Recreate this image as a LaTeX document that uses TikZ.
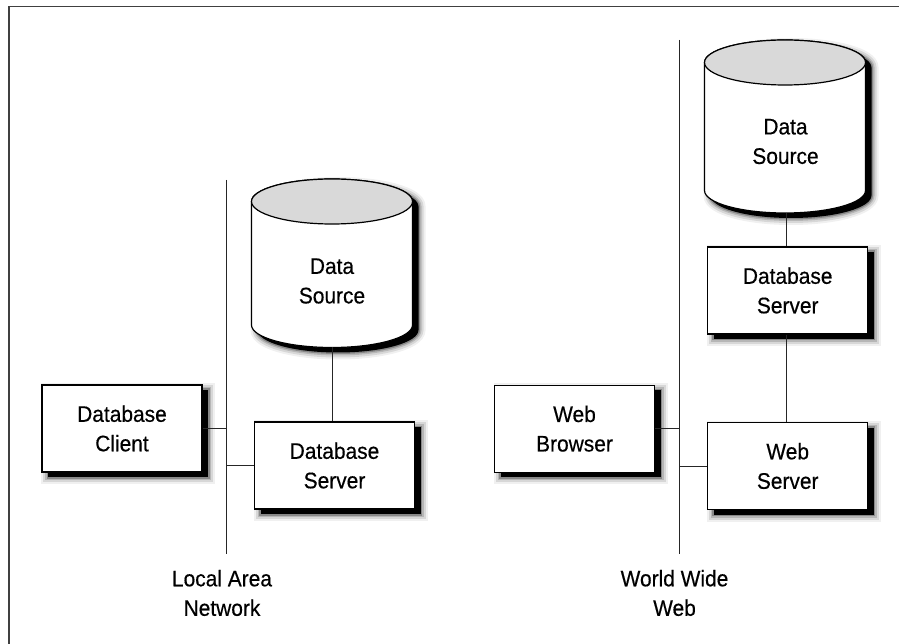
\documentclass[tikz,border=0pt]{standalone}
\usepackage{fontspec}
\setmainfont{Liberation Sans}[FakeStretch=0.93,FakeBold=0.4]
\usetikzlibrary{shadows}
\newcommand\lblfont{\fontsize{22.5}{29.5}\selectfont}
\newcommand\cylpath[3]{(#1-80.5,#2) -- (#1-80.5,#3) arc[start angle=180,end angle=360,x radius=80.5pt,y radius=22.5pt] -- (#1+80.5,#2) arc[start angle=0,end angle=180,x radius=80.5pt,y radius=22.5pt] -- cycle}
\newcommand\cylinderdraw[3]{%
  \foreach \w/\o in {14/0.06,10/0.1,6/0.15,3/0.25}{\draw[line width=\w pt,draw opacity=\o,shift={(6pt,-5pt)}] \cylpath{#1}{#2}{#3};}
  \fill[black,shift={(6pt,-5pt)}] \cylpath{#1}{#2}{#3};
  \filldraw[cylline,fill=white] \cylpath{#1}{#2}{#3};
  \filldraw[cylline,fill=black!15] (#1,#2) ellipse[x radius=80.5pt,y radius=22.5pt];
}
\tikzset{
  softshadow/.style={
    general shadow={shadow xshift=6pt,shadow yshift=-5pt,draw=black,line width=14pt,draw opacity=0.06},
    general shadow={shadow xshift=6pt,shadow yshift=-5pt,draw=black,line width=10pt,draw opacity=0.1},
    general shadow={shadow xshift=6pt,shadow yshift=-5pt,draw=black,line width=6pt,draw opacity=0.15},
    general shadow={shadow xshift=6pt,shadow yshift=-5pt,draw=black,line width=3pt,draw opacity=0.25,fill=black}},
  box/.style={draw=black,line width=1.2pt,fill=white,minimum width=160pt,minimum height=87pt,inner sep=0pt,align=center,font=\lblfont,softshadow},
  lbl/.style={align=center,font=\lblfont,inner sep=0pt},
  cylline/.style={draw=black,line width=1.2pt},
  net/.style={draw=black!85,line width=1pt},
  wire/.style={draw=black!85,line width=1pt},
}
\begin{document}
\begin{tikzpicture}[x=1pt,y=1pt]
\useasboundingbox (0,0) rectangle (899,643);
\fill[white] (0,0) rectangle (899,643);
% frame
\draw[black!75,line width=1.6pt] (9,-5) -- (9,636.5) -- (905,636.5);

% ---- Local Area Network ----
\coordinate (lantop) at (226,463);
\coordinate (lanbot) at (226,89);
\draw[net] (lantop) -- (lanbot);
\node[lbl] (lanlbl) at (222,50) {Local Area\\Network};

\cylinderdraw{332}{441.5}{318}
\node[lbl] (ds1) at (332,362) {Data\\Source};
\coordinate (ds1b) at (332.5,295.5);

\node[box] (client) at (122,214.5) {Database\\Client};
\node[box] (srv1) at (334.5,177.5) {Database\\Server};

\draw[wire] (ds1b) -- (ds1b |- srv1.north);
\draw[wire] (client.east) -- (client.east -| lantop);
\draw[wire] (srv1.west) -- (srv1.west -| lantop);

% ---- World Wide Web ----
\coordinate (wwwtop) at (679.3,603);
\coordinate (wwwbot) at (679.3,89);
\draw[net] (wwwtop) -- (wwwbot);
\node[lbl] (wwwlbl) at (674.5,50) {World Wide\\Web};

\cylinderdraw{785}{580.5}{452.5}
\node[lbl] (ds2) at (785.5,501.5) {Data\\Source};
\coordinate (ds2b) at (786,430);

\node[box] (dbs2) at (787.7,352.5) {Database\\Server};
\node[box] (websrv) at (787.7,177) {Web\\Server};
\node[box] (browser) at (574.5,214.3) {Web\\Browser};

\draw[wire] (ds2b) -- (ds2b |- dbs2.north);
\draw[wire] (dbs2.south -| ds2b) -- (websrv.north -| ds2b);
\draw[wire] (browser.east) -- (browser.east -| wwwtop);
\draw[wire] (websrv.west) -- (websrv.west -| wwwtop);
\end{tikzpicture}
\end{document}
